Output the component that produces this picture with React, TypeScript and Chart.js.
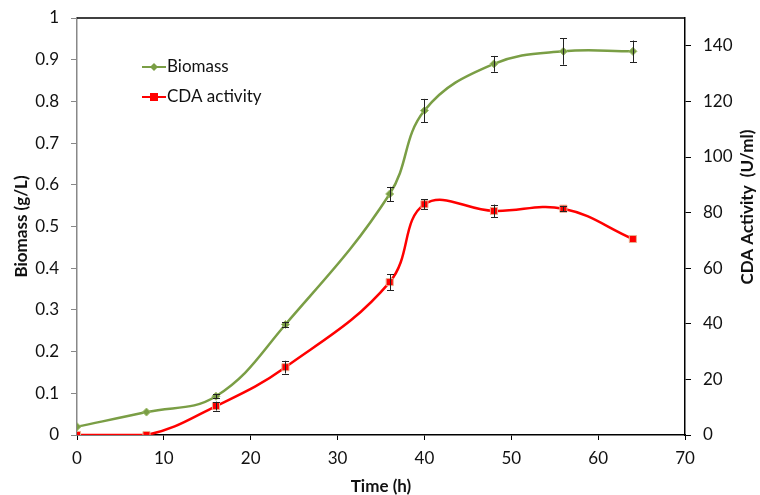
import React, { useEffect, useRef } from "react";
import { Chart, registerables } from "chart.js";

Chart.register(...registerables);

const timeH = [0, 8, 16, 24, 36, 40, 48, 56, 64];
const biomass = [0.02, 0.055, 0.093, 0.265, 0.578, 0.778, 0.89, 0.92, 0.92];
const biomassErr = [0, 0, 0.005, 0.006, 0.017, 0.028, 0.019, 0.032, 0.026];
const cdaActivity = [0, 0, 10.4, 24.4, 55, 83, 80.6, 81.4, 70.5];
const cdaErr = [0, 0, 1.6, 2.3, 2.9, 1.8, 2.3, 1.0, 0];
const leftTicksMax = 1;
const rightTicksMax = 140;
const xTitle = "Time (h)";
const leftTitle = "Biomass (g/L)";
const rightTitle = "CDA Activity  (U/ml)";

const FONT = "Lato, 'Open Sans', sans-serif";
const GREEN = "#7A9E45";
const RED = "#FF0000";

const errorBarPlugin = {
  id: "errorBars",
  afterDatasetsDraw(chart: any) {
    const ctx = chart.ctx;
    chart.data.datasets.forEach((ds: any, i: number) => {
      const meta = chart.getDatasetMeta(i);
      const yScale = chart.scales[ds.yAxisID];
      const errs: number[] = ds.errors || [];
      meta.data.forEach((pt: any, j: number) => {
        const e = errs[j];
        if (!e) return;
        const v = ds.data[j].y;
        const yTop = yScale.getPixelForValue(v + e);
        const yBot = yScale.getPixelForValue(v - e);
        const x = Math.round(pt.x);
        ctx.save();
        ctx.strokeStyle = "#222";
        ctx.lineWidth = 1;
        ctx.beginPath();
        ctx.moveTo(x + 0.5, yTop);
        ctx.lineTo(x + 0.5, yBot);
        ctx.moveTo(x - 3, Math.round(yTop) + 0.5);
        ctx.lineTo(x + 4, Math.round(yTop) + 0.5);
        ctx.moveTo(x - 3, Math.round(yBot) + 0.5);
        ctx.lineTo(x + 4, Math.round(yBot) + 0.5);
        ctx.stroke();
        ctx.restore();
      });
    });
  },
};

const framePlugin = {
  id: "frame",
  afterDraw(chart: any) {
    const { ctx, chartArea } = chart;
    ctx.save();
    ctx.strokeStyle = "#000";
    ctx.lineWidth = 1.5;
    ctx.beginPath();
    ctx.moveTo(chartArea.left, chartArea.top);
    ctx.lineTo(chartArea.right, chartArea.top);
    ctx.stroke();
    // axis titles
    ctx.fillStyle = "#111";
    ctx.font = `bold 17px ${FONT}`;
    ctx.textAlign = "center";
    ctx.textBaseline = "middle";
    ctx.fillText(xTitle, (chartArea.left + chartArea.right) / 2, 487);
    ctx.save();
    ctx.translate(22, (chartArea.top + chartArea.bottom) / 2);
    ctx.rotate(-Math.PI / 2);
    ctx.fillText(leftTitle, 0, 0);
    ctx.restore();
    ctx.save();
    ctx.translate(748, 207);
    ctx.rotate(-Math.PI / 2);
    ctx.fillText(rightTitle, 0, 0);
    ctx.restore();
    ctx.restore();
  },
};

const legendPlugin = {
  id: "customLegend",
  afterDraw(chart: any) {
    const ctx = chart.ctx;
    const items = [
      { label: "Biomass", color: GREEN, y: 67, style: "diamond" },
      { label: "CDA activity", color: RED, y: 97, style: "square" },
    ];
    ctx.save();
    items.forEach((it) => {
      ctx.strokeStyle = it.color;
      ctx.lineWidth = 2;
      ctx.beginPath();
      ctx.moveTo(142, it.y);
      ctx.lineTo(166, it.y);
      ctx.stroke();
      ctx.fillStyle = it.color;
      if (it.style === "square") {
        ctx.fillRect(150, it.y - 4, 8, 8);
      } else {
        ctx.beginPath();
        ctx.moveTo(154, it.y - 4);
        ctx.lineTo(158, it.y);
        ctx.lineTo(154, it.y + 4);
        ctx.lineTo(150, it.y);
        ctx.closePath();
        ctx.fill();
      }
      ctx.fillStyle = "#111";
      ctx.font = `17px ${FONT}`;
      ctx.textBaseline = "middle";
      ctx.fillText(it.label, 167, it.y);
    });
    ctx.restore();
  },
};

export default function App() {
  const ref = useRef<HTMLCanvasElement>(null);
  useEffect(() => {
    const chart = new Chart(ref.current!, {
      type: "line",
      data: {
        datasets: [
          {
            label: "Biomass",
            data: timeH.map((t, i) => ({ x: t, y: biomass[i] })),
            errors: biomassErr,
            yAxisID: "y",
            borderColor: GREEN,
            backgroundColor: GREEN,
            borderWidth: 2.5,
            pointStyle: "rectRot",
            pointRadius: 4,
            pointBorderWidth: 1,
            pointBorderColor: "#9DBB6A",
            tension: 0.4,
          } as any,
          {
            label: "CDA activity",
            data: timeH.map((t, i) => ({ x: t, y: cdaActivity[i] })),
            errors: cdaErr,
            yAxisID: "y1",
            borderColor: RED,
            backgroundColor: RED,
            borderWidth: 2.5,
            pointStyle: "rect",
            pointRadius: 5,
            pointBorderWidth: 1,
            pointBorderColor: "#E8B090",
            tension: 0.4,
          } as any,
        ],
      },
      options: {
        responsive: false,
        animation: false,
        layout: { padding: { top: 18, left: 0, right: 0, bottom: 0 } },
        plugins: { legend: { display: false }, tooltip: { enabled: false } },
        scales: {
          x: {
            type: "linear",
            min: 0,
            max: 70,
            ticks: { stepSize: 10, color: "#111", font: { family: FONT, size: 17 }, padding: 8 },
            grid: { drawOnChartArea: false, drawTicks: true, tickLength: 5, color: "#000" },
            border: { color: "#000", width: 1.5 },
            afterFit(s: any) { s.height = 60; s.paddingLeft = 0; s.paddingRight = 0; },
          },
          y: {
            position: "left",
            min: 0,
            max: leftTicksMax,
            ticks: {
              stepSize: 0.1,
              color: "#111",
              font: { family: FONT, size: 17 },
              padding: 12,
              callback: (v: any) => String(Number(Number(v).toFixed(1))),
            },
            grid: { drawOnChartArea: false, drawTicks: true, tickLength: 6, color: "#888" },
            border: { color: "#888", width: 1.5 },
            afterFit(s: any) { s.width = 77; s.paddingTop = 0; s.paddingBottom = 0; },
          },
          y1: {
            position: "right",
            min: 0,
            max: 150,
            ticks: { stepSize: 20, color: "#111", font: { family: FONT, size: 17 }, padding: 12 },
            afterBuildTicks(s: any) { s.ticks = s.ticks.filter((t: any) => t.value <= rightTicksMax); },
            grid: { drawOnChartArea: false, drawTicks: true, tickLength: 6, color: "#000" },
            border: { color: "#000", width: 1.5 },
            afterFit(s: any) { s.width = 75; s.paddingTop = 0; s.paddingBottom = 0; },
          },
        },
      } as any,
      plugins: [errorBarPlugin, framePlugin, legendPlugin],
    });
    return () => chart.destroy();
  }, []);
  return (
    <div style={{ position: "fixed", left: 0, top: 0, width: 760, height: 495, background: "#fff" }}>
      <canvas ref={ref} width={760} height={495} />
    </div>
  );
}
